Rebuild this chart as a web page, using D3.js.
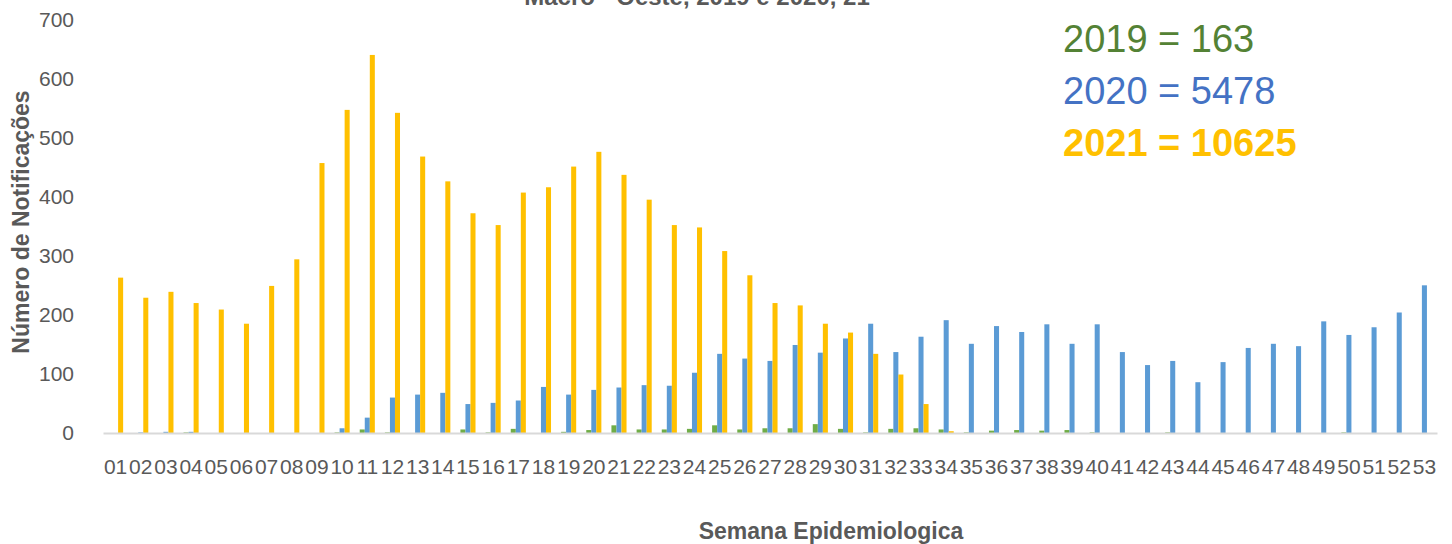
<!DOCTYPE html>
<html>
<head>
<meta charset="utf-8">
<script src="https://cdn.jsdelivr.net/npm/d3@7"></script>
<style>
  body { margin: 0; background: #fff; }
  svg { display: block; font-family: "Liberation Sans", Arial, sans-serif; }
</style>
</head>
<body>
<svg id="chart"></svg>
<script>
const weeks = ['01','02','03','04','05','06','07','08','09','10','11','12','13','14','15','16','17','18',
  '19','20','21','22','23','24','25','26','27','28','29','30','31','32','33','34','35','36',
  '37','38','39','40','41','42','43','44','45','46','47','48','49','50','51','52','53'];

const series = ['2019', '2020', '2021'];

const values2019 = [0,0,0,1,0,0,0,0,0,1,6,1,0,0,6,1,7,0,2,5,13,6,6,7,13,6,8,8,15,7,1,7,8,6,1,4,5,4,5,1,0,0,1,0,0,0,0,0,0,1,0,0,0];
const values2020 = [0,1,2,2,0,0,0,0,0,8,26,60,65,68,49,51,55,78,65,73,77,81,80,102,134,126,122,149,136,160,185,137,163,191,151,181,171,184,151,184,137,115,122,86,120,144,151,147,189,166,179,204,250];
const values2021 = [263,229,239,220,209,185,249,294,457,547,640,542,468,426,372,352,407,416,451,476,437,395,352,348,308,267,220,216,185,170,134,99,49,3,0,0,0,0,0,0,0,0,0,0,0,0,0,0,0,0,0,0,0];

const yTicks = [0, 100, 200, 300, 400, 500, 600, 700];
const totals = ['2019 = 163', '2020 = 5478', '2021 = 10625'];
const title = 'Macro - Oeste, 2019 e 2020, 21';

const colors = { '2019': '#70AD47', '2020': '#5B9BD5', '2021': '#FFC000' };
const totalColors = ['#548235', '#4472C4', '#FFC000'];

const width = 1452, height = 544;
const margin = { top: 19.5, right: 15, bottom: 111, left: 103 };

const svg = d3.select('#chart').attr('width', width).attr('height', height);

const rows = weeks.map((w, i) => ({ week: w, '2019': values2019[i], '2020': values2020[i], '2021': values2021[i] }));

const x0 = d3.scaleBand()
  .domain(weeks)
  .range([margin.left, width - margin.right])
  .padding(0);

const x1 = d3.scaleBand()
  .domain(series)
  .range([x0.bandwidth() * 0.2, x0.bandwidth() * 0.8])
  .padding(0);

const y = d3.scaleLinear()
  .domain([0, 700])
  .range([height - margin.bottom, margin.top]);

// title (cut at top, as in the original)
svg.append('text')
  .attr('x', 697)
  .attr('y', 5)
  .attr('text-anchor', 'middle')
  .attr('fill', '#595959')
  .style('font-size', '24px')
  .style('font-weight', 'bold')
  .text(title);

// bars
svg.selectAll('.week')
  .data(rows)
  .enter()
  .append('g')
  .attr('class', 'week')
  .attr('transform', d => `translate(${x0(d.week)},0)`)
  .selectAll('rect')
  .data(d => series.map(key => ({ key, value: d[key] })))
  .enter()
  .append('rect')
  .attr('x', d => x1(d.key))
  .attr('y', d => y(d.value))
  .attr('width', x1.bandwidth())
  .attr('height', d => y(0) - y(d.value))
  .attr('fill', d => colors[d.key]);

// x axis
const xAxis = svg.append('g')
  .attr('transform', `translate(0,${y(0)})`)
  .call(d3.axisBottom(x0).tickSize(0).tickPadding(26));
xAxis.select('.domain').attr('stroke', '#D9D9D9').attr('stroke-width', 2);
xAxis.selectAll('text')
  .attr('fill', '#595959')
  .style('font-size', '21px')
  .style('font-family', '"Liberation Sans", Arial, sans-serif');

// y axis (labels only)
const yAxis = svg.append('g')
  .attr('transform', `translate(${margin.left},0)`)
  .call(d3.axisLeft(y).tickValues(yTicks).tickSize(0).tickPadding(29));
yAxis.select('.domain').remove();
yAxis.selectAll('text')
  .attr('fill', '#595959')
  .style('font-size', '21px')
  .style('font-family', '"Liberation Sans", Arial, sans-serif');

// axis titles
svg.append('text')
  .attr('transform', 'translate(29,222) rotate(-90)')
  .attr('text-anchor', 'middle')
  .attr('fill', '#595959')
  .style('font-size', '23px')
  .style('font-weight', 'bold')
  .text('Número de Notificações');

svg.append('text')
  .attr('x', 831)
  .attr('y', 539)
  .attr('text-anchor', 'middle')
  .attr('fill', '#595959')
  .style('font-size', '23px')
  .style('font-weight', 'bold')
  .text('Semana Epidemiologica');

// totals
svg.selectAll('.total')
  .data(totals)
  .enter()
  .append('text')
  .attr('class', 'total')
  .attr('x', 1063)
  .attr('y', (d, i) => 52 + i * 52)
  .attr('fill', (d, i) => totalColors[i])
  .style('font-size', '38px')
  .style('font-weight', (d, i) => i === 2 ? 'bold' : 'normal')
  .text(d => d);
</script>
</body>
</html>
